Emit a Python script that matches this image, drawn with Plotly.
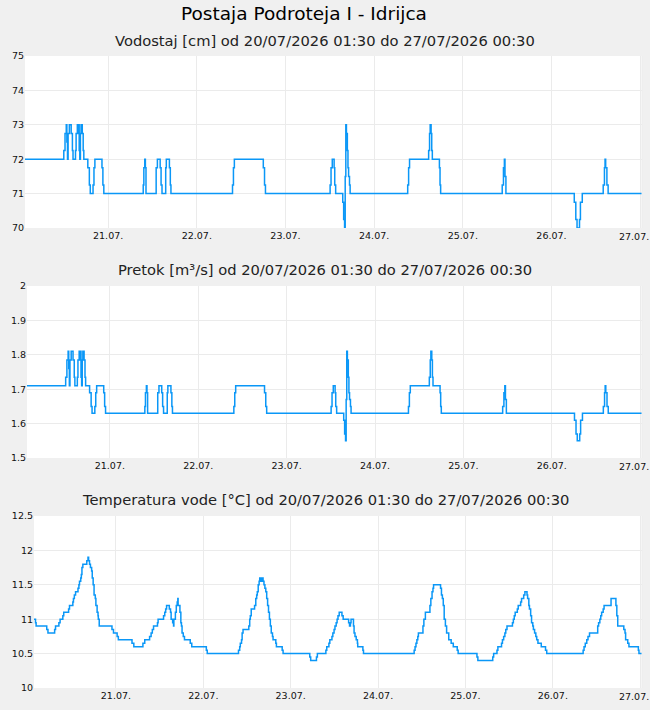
import pandas as pd
import plotly.graph_objects as go

STATION = "Postaja Podroteja I - Idrijca"
PERIOD = "od 20/07/2026 01:30 do 27/07/2026 00:30"
X_START = "2026-07-20 01:30"
X_END = "2026-07-27 00:30"
DAY_TICKS = ["2026-07-21", "2026-07-22", "2026-07-23", "2026-07-24",
             "2026-07-25", "2026-07-26", "2026-07-27"]
DAY_LABELS = ["21.07.", "22.07.", "23.07.", "24.07.", "25.07.", "26.07.", "27.07."]

# Vodostaj [cm] / Pretok [m3/s] change points (day-of-July HH:MM)
level_times = [
    "20 01:30", "20 12:00", "20 12:20", "20 12:40", "20 12:50", "20 13:00", "20 13:10", "20 13:30",
    "20 14:00", "20 14:20", "20 14:30", "20 15:10", "20 15:20", "20 15:40", "20 15:50", "20 16:00",
    "20 16:10", "20 16:20", "20 16:30", "20 16:40", "20 17:00", "20 17:15", "20 17:25", "20 18:30",
    "20 18:55", "20 19:10", "20 19:55", "20 20:10", "20 20:25", "20 22:20", "20 22:35", "20 22:50",
    "21 09:30", "21 09:40", "21 09:55", "21 10:05", "21 10:15", "21 13:00", "21 13:20", "21 14:05",
    "21 14:20", "21 14:35", "21 15:35", "21 15:45", "21 16:35", "21 16:50", "21 17:00",
    "22 09:40", "22 09:55", "22 10:10", "22 18:00", "22 18:20", "22 18:35",
    "23 12:05", "23 12:20", "23 12:40", "23 13:10", "23 13:20", "23 13:35", "23 15:30", "23 15:45",
    "23 16:00", "23 16:10", "23 16:20", "23 16:30", "23 16:45", "23 16:55", "23 17:05", "23 17:20",
    "23 17:30",
    "24 09:05", "24 09:20", "24 09:35", "24 14:45", "24 15:00", "24 15:10", "24 15:25", "24 15:35",
    "24 15:45", "24 17:40", "24 17:50", "24 18:00",
    "25 10:40", "25 11:00", "25 11:15", "25 11:25", "25 11:40",
    "26 06:10", "26 06:35", "26 06:55", "26 07:35", "26 07:50", "26 08:20", "26 14:00", "26 14:20",
    "26 14:30", "26 14:40", "26 15:00", "26 15:20", "27 00:30",
]
level_values = [
    72, 72.25, 72.75, 73, 72.5, 72, 72.75, 73,
    72.75, 72.25, 72, 72.25, 72.75, 73, 72.75, 73,
    72.25, 72, 72.75, 73, 72.75, 72.25, 72, 71.75,
    71.25, 71, 71.25, 71.75, 72, 71.75, 71.25, 71,
    71.25, 71.75, 72, 71.75, 71, 71.75, 72, 71.75,
    71.25, 71, 71.75, 72, 71.75, 71.25, 71,
    71.25, 71.75, 72, 71.75, 71.25, 71,
    71.25, 71.75, 72, 71.75, 71.25, 71, 70.75, 70.25,
    70, 71.5, 73, 72.75, 72.25, 71.75, 71.5, 71.25,
    71,
    71.25, 71.75, 72, 72.25, 72.75, 73, 72.75, 72.25,
    72, 71.75, 71.25, 71,
    71.25, 71.75, 72, 71.5, 71,
    70.75, 70.25, 70, 70.25, 70.75, 71, 71.25, 71.75,
    72, 71.75, 71.25, 71, 71,
]
flow_values = [
    1.71, 1.735, 1.785, 1.81, 1.76, 1.71, 1.785, 1.81,
    1.785, 1.735, 1.71, 1.735, 1.785, 1.81, 1.785, 1.81,
    1.735, 1.71, 1.785, 1.81, 1.785, 1.735, 1.71, 1.69,
    1.65, 1.63, 1.65, 1.69, 1.71, 1.69, 1.65, 1.63,
    1.65, 1.69, 1.71, 1.69, 1.63, 1.69, 1.71, 1.69,
    1.65, 1.63, 1.69, 1.71, 1.69, 1.65, 1.63,
    1.65, 1.69, 1.71, 1.69, 1.65, 1.63,
    1.65, 1.69, 1.71, 1.69, 1.65, 1.63, 1.61, 1.57,
    1.55, 1.67, 1.81, 1.785, 1.735, 1.69, 1.67, 1.65,
    1.63,
    1.65, 1.69, 1.71, 1.735, 1.785, 1.81, 1.785, 1.735,
    1.71, 1.69, 1.65, 1.63,
    1.65, 1.69, 1.71, 1.67, 1.63,
    1.61, 1.57, 1.55, 1.57, 1.61, 1.63, 1.65, 1.69,
    1.71, 1.69, 1.65, 1.63, 1.63,
]

# Temperatura vode [°C] change points
temp_times = [
    "20 01:30", "20 01:55", "20 02:05", "20 05:00", "20 05:20", "20 07:10", "20 07:25", "20 08:20",
    "20 08:40", "20 09:25", "20 09:40", "20 11:00", "20 11:15", "20 12:10", "20 12:20", "20 12:35",
    "20 12:55", "20 13:35", "20 13:50", "20 14:00", "20 14:20", "20 14:30", "20 14:40", "20 14:55",
    "20 16:00", "20 16:20", "20 16:30", "20 16:45", "20 17:00", "20 17:20", "20 17:30", "20 17:45",
    "20 18:00", "20 18:20", "20 18:30", "20 18:50", "20 19:05", "20 19:10", "20 19:25", "20 22:55",
    "20 23:20", "21 00:20", "21 00:40", "21 04:25", "21 04:55", "21 07:25", "21 07:55", "21 09:15",
    "21 09:40", "21 10:00", "21 10:20", "21 11:25", "21 11:35", "21 13:05", "21 13:25", "21 13:40",
    "21 13:55", "21 14:40", "21 15:00", "21 15:10", "21 15:35", "21 15:50", "21 15:55", "21 16:20",
    "21 16:35", "21 16:50", "21 17:00", "21 17:05", "21 17:35", "21 17:50", "21 18:00", "21 18:10",
    "21 18:30", "21 18:50", "21 20:25", "21 20:50", "22 00:50", "22 01:05",
    "22 09:40", "22 10:00", "22 10:10", "22 10:30", "22 10:40", "22 10:55", "22 12:30", "22 12:45",
    "22 12:55", "22 13:10", "22 14:05", "22 14:25", "22 14:40", "22 14:50", "22 15:05", "22 15:20",
    "22 15:30", "22 15:40", "22 15:50", "22 16:05", "22 16:10", "22 16:25", "22 16:40", "22 16:55",
    "22 17:10", "22 17:25", "22 17:40", "22 17:55", "22 18:10", "22 18:25", "22 18:40", "22 19:00",
    "22 19:10", "22 19:55", "22 20:05", "22 21:40", "22 21:55",
    "23 05:15", "23 05:30", "23 07:05", "23 07:20", "23 09:40", "23 09:55", "23 10:30", "23 10:45",
    "23 11:20", "23 11:35", "23 11:55", "23 12:10", "23 12:30", "23 12:45", "23 13:00", "23 13:20",
    "23 14:05", "23 14:25", "23 15:55", "23 16:10", "23 16:25", "23 16:35", "23 17:15", "23 17:25",
    "23 17:40", "23 18:00", "23 18:20", "23 18:25", "23 19:50", "23 20:00",
    "24 09:55", "24 10:10", "24 10:25", "24 10:40", "24 10:55", "24 11:05", "24 12:20", "24 12:35",
    "24 13:00", "24 14:15", "24 14:30", "24 14:50", "24 15:05", "24 15:15", "24 17:10", "24 17:25",
    "24 17:40", "24 17:55", "24 18:10", "24 18:30", "24 18:50", "24 19:25", "24 20:05", "24 20:40",
    "24 21:45", "24 22:00",
    "25 03:10", "25 03:25", "25 07:30", "25 07:45", "25 08:40", "25 08:55", "25 09:55", "25 10:10",
    "25 10:30", "25 10:50", "25 11:05", "25 11:25", "25 12:55", "25 13:10", "25 13:25", "25 13:40",
    "25 14:15", "25 14:30", "25 15:10", "25 15:25", "25 16:00", "25 16:20", "25 16:55", "25 17:05",
    "25 17:25", "25 17:35", "25 17:55", "25 18:10", "25 18:30", "25 18:40", "25 19:00", "25 19:20",
    "25 19:35", "25 19:55", "25 20:50", "25 22:00", "25 22:20",
    "26 08:20", "26 08:35", "26 08:55", "26 09:20", "26 09:40", "26 10:05", "26 12:20", "26 12:35",
    "26 12:55", "26 13:10", "26 13:25", "26 13:50", "26 14:05", "26 16:00", "26 17:20", "26 17:35",
    "26 17:50", "26 19:30", "26 19:50", "26 20:00", "26 20:35", "26 20:55", "26 23:30", "26 23:40",
    "27 00:30",
]
temp_values = [
    11.0, 10.95, 10.9, 10.85, 10.8, 10.85, 10.9, 10.95,
    11.0, 11.05, 11.1, 11.15, 11.2, 11.25, 11.3, 11.35,
    11.4, 11.45, 11.5, 11.55, 11.6, 11.65, 11.75, 11.8,
    11.85, 11.9, 11.85, 11.8, 11.75, 11.7, 11.6, 11.5,
    11.35, 11.3, 11.2, 11.1, 11.05, 11.0, 10.9, 10.85,
    10.8, 10.75, 10.7, 10.65, 10.6, 10.65, 10.7, 10.75,
    10.8, 10.85, 10.9, 10.95, 11.0, 11.05, 11.1, 11.15,
    11.2, 11.15, 11.1, 11.0, 10.95, 10.9, 11.0, 11.1,
    11.2, 11.25, 11.3, 11.2, 11.1, 10.95, 10.9, 10.8,
    10.75, 10.7, 10.65, 10.6, 10.55, 10.5,
    10.55, 10.6, 10.65, 10.7, 10.8, 10.85, 10.9, 11.0,
    11.05, 11.15, 11.2, 11.3, 11.35, 11.4, 11.5, 11.55,
    11.6, 11.55, 11.6, 11.55, 11.6, 11.55, 11.5, 11.45,
    11.4, 11.3, 11.2, 11.1, 11.0, 10.9, 10.8, 10.75,
    10.7, 10.65, 10.6, 10.55, 10.5,
    10.45, 10.4, 10.45, 10.5, 10.55, 10.6, 10.65, 10.7,
    10.75, 10.8, 10.85, 10.9, 10.95, 11.0, 11.05, 11.1,
    11.05, 11.0, 10.95, 10.9, 10.95, 11.0, 10.9, 10.8,
    10.75, 10.7, 10.65, 10.6, 10.55, 10.5,
    10.55, 10.6, 10.65, 10.7, 10.75, 10.8, 10.9, 11.0,
    11.1, 11.2, 11.3, 11.4, 11.45, 11.5, 11.45, 11.35,
    11.3, 11.2, 11.0, 10.9, 10.8, 10.7, 10.65, 10.6,
    10.55, 10.5,
    10.45, 10.4, 10.45, 10.5, 10.55, 10.6, 10.65, 10.7,
    10.75, 10.8, 10.85, 10.9, 10.95, 11.0, 11.05, 11.1,
    11.15, 11.2, 11.25, 11.3, 11.35, 11.4, 11.35, 11.3,
    11.2, 11.15, 11.05, 10.95, 10.9, 10.85, 10.8, 10.75,
    10.7, 10.65, 10.6, 10.55, 10.5,
    10.55, 10.6, 10.65, 10.7, 10.75, 10.8, 10.9, 10.95,
    11.0, 11.05, 11.1, 11.15, 11.2, 11.3, 11.2, 11.05,
    10.9, 10.85, 10.8, 10.7, 10.65, 10.6, 10.55, 10.5,
    10.5,
]

panel_titles = [
    "Vodostaj [cm] " + PERIOD,
    "Pretok [m³/s] " + PERIOD,
    "Temperatura vode [°C] " + PERIOD,
]
y_ranges = [[70, 75], [1.5, 2.0], [10, 12.5]]
y_dticks = [1, 0.1, 0.5]


def parse(ts):
    return pd.to_datetime(["2026-07-" + t for t in ts], format="%Y-%m-%d %H:%M")


W, H = 650, 710
LINE = "#0a97f7"
GRID = "#ebebeb"
FONT = "DejaVu Sans"
TICKFONT = dict(family=FONT, size=9.5, color="#111")

fig = go.Figure()
series = [
    (parse(level_times), level_values),
    (parse(level_times), flow_values),
    (parse(temp_times), temp_values),
]
for i, (xs, ys) in enumerate(series):
    sfx = "" if i == 0 else str(i + 1)
    fig.add_trace(go.Scatter(
        x=xs, y=ys, mode="lines", line=dict(color=LINE, width=1.5, shape="hv"),
        xaxis="x" + sfx, yaxis="y" + sfx, showlegend=False, hoverinfo="skip",
    ))

# panel pixel boxes: left, top, right, bottom
boxes = [(25, 56, 642, 228), (27, 286, 642, 458), (34, 516, 642, 688)]
title_y = [40, 270, 500]

layout = dict(
    width=W, height=H, margin=dict(l=0, r=0, t=0, b=0, pad=0, autoexpand=False),
    paper_bgcolor="#f0f0f0", plot_bgcolor="white",
    font=dict(family=FONT, size=10, color="#111"),
    showlegend=False,
)
annotations = [dict(
    text=STATION, x=304 / W, y=1 - 14 / H, xref="paper", yref="paper",
    xanchor="center", yanchor="middle", showarrow=False,
    font=dict(family=FONT, size=18.5, color="#000"),
)]
shapes = []
# the last day label sits at the right edge: drawn right-aligned so it stays inside the page
tick_text = DAY_LABELS[:-1] + [""]
for i, (l, t, r, b) in enumerate(boxes):
    sfx = "" if i == 0 else str(i + 1)
    layout["xaxis" + sfx] = dict(
        domain=[l / W, r / W], anchor="y" + sfx, type="date",
        range=[X_START, X_END], tickmode="array", tickvals=DAY_TICKS, ticktext=tick_text,
        automargin=False, showgrid=True, gridcolor=GRID, gridwidth=1,
        zeroline=False, showline=False, ticks="", tickfont=TICKFONT,
    )
    layout["yaxis" + sfx] = dict(
        domain=[1 - b / H, 1 - t / H], anchor="x" + sfx, automargin=False,
        range=y_ranges[i], dtick=y_dticks[i], showgrid=True, gridcolor=GRID,
        zeroline=False, showline=False, ticks="", tickfont=TICKFONT,
    )
    # light border line on the right edge of each panel
    shapes.append(dict(
        type="line", xref="x" + sfx + " domain", yref="y" + sfx + " domain",
        x0=1, x1=1, y0=0, y1=1, line=dict(color=GRID, width=1),
    ))
    annotations.append(dict(
        text=panel_titles[i], x=325 / W, y=1 - title_y[i] / H, xref="paper", yref="paper",
        xanchor="center", yanchor="middle", showarrow=False,
        font=dict(family=FONT, size=14.7, color="#222"),
    ))
    annotations.append(dict(
        text=DAY_LABELS[-1], x=1, y=1 - (b + 8.5) / H, xref="paper", yref="paper",
        xanchor="right", yanchor="middle", showarrow=False, borderpad=0,
        font=TICKFONT,
    ))
layout["annotations"] = annotations
layout["shapes"] = shapes
fig.update_layout(**layout)
fig.write_html(
    "out.html",
    post_script="document.body.style.margin='0px'; document.body.style.overflow='hidden';",
)
